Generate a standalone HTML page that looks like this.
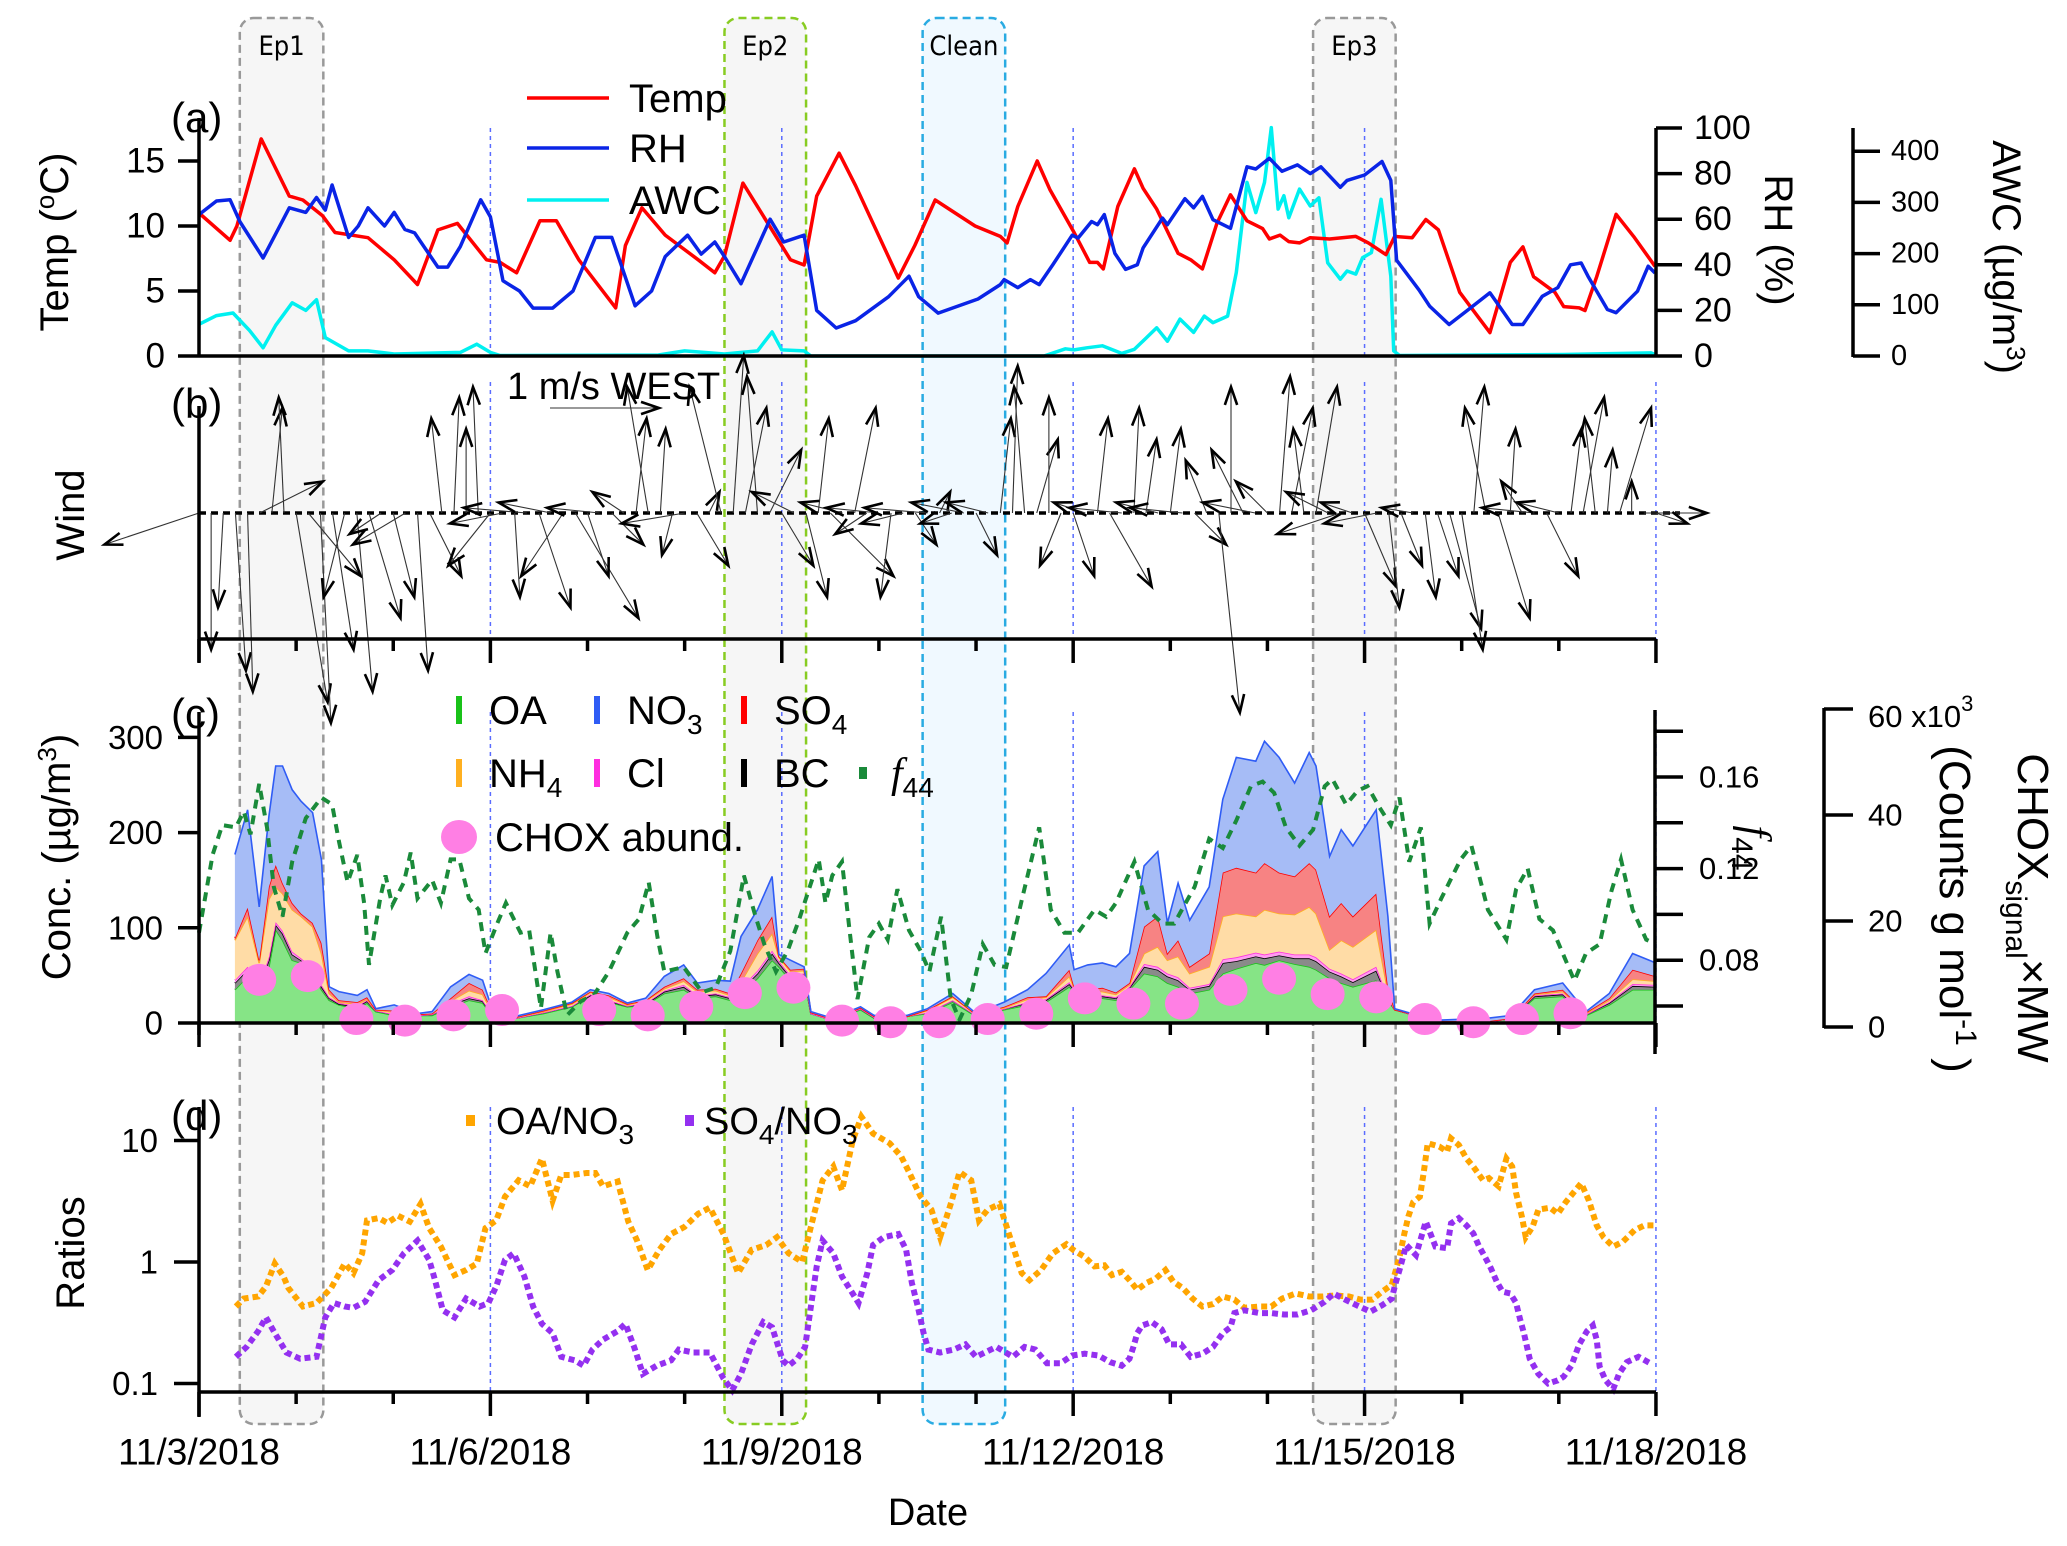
<!DOCTYPE html>
<html><head><meta charset="utf-8">
<style>
html,body{margin:0;padding:0;background:#fff;}
svg{display:block;font-family:"Liberation Sans",Arial,sans-serif;}
</style></head>
<body>
<svg id="chart" xmlns="http://www.w3.org/2000/svg" width="2067" height="1546" viewBox="0 0 2067 1546">
<g id="boxes"></g>
<g id="grid"></g>
<g id="pa"></g>
<g id="pb"></g>
<g id="pc"></g>
<g id="pd"></g>
<g id="axes"></g>
<g id="texts" font-size="42" fill="#000">
  <text x="171" y="132">(a)</text>
  <text x="171" y="418">(b)</text>
  <text x="171" y="728">(c)</text>
  <text x="171" y="1130">(d)</text>
  <text transform="translate(68,242) rotate(-90)" text-anchor="middle" font-size="40">Temp (<tspan dy="-14" font-size="26">o</tspan><tspan dy="14">C)</tspan></text>
  <text transform="translate(1765,240) rotate(90)" text-anchor="middle" font-size="40">RH (%)</text>
  <text transform="translate(1993,257) rotate(90)" text-anchor="middle" font-size="40">AWC (µg/m<tspan dy="-14" font-size="26">3</tspan><tspan dy="14">)</tspan></text>
  <text transform="translate(84,515) rotate(-90)" text-anchor="middle" font-size="40">Wind</text>
  <text transform="translate(70,857) rotate(-90)" text-anchor="middle" font-size="40">Conc. (µg/m<tspan dy="-14" font-size="26">3</tspan><tspan dy="14">)</tspan></text>
  <text transform="translate(1742,848) rotate(90)" text-anchor="middle" font-size="42"><tspan font-style="italic" font-family="Liberation Serif">f</tspan><tspan dy="10" font-size="30">44</tspan></text>
  <text transform="translate(2018,908) rotate(90)" text-anchor="middle" font-size="44">CHOX<tspan dy="12" font-size="30">signal</tspan><tspan dy="-12">×MW</tspan></text>
  <text transform="translate(1940,909) rotate(90)" text-anchor="middle" font-size="44">(Counts g mol<tspan dy="-16" font-size="30">-1</tspan><tspan dy="16"> )</tspan></text>
  <text x="1868" y="727" font-size="31">60 x10<tspan dy="-16" font-size="22">3</tspan></text>
  <text transform="translate(84,1253) rotate(-90)" text-anchor="middle" font-size="40">Ratios</text>
  <text x="928" y="1525" text-anchor="middle" font-size="38">Date</text>
  <text x="507" y="399" font-size="38">1 m/s WEST</text>
</g>
<g id="legend"></g>
</svg>
<script>
// ---------------- data ----------------
const tTemp=[0,0.32,0.39,0.64,0.93,1.07,1.27,1.40,1.74,2.01,2.25,2.46,2.66,2.96,3.10,3.27,3.51,3.68,3.91,4.29,4.39,4.56,4.80,5.14,5.31,5.41,5.60,6.09,6.23,6.36,6.59,6.76,7.20,7.37,7.58,7.99,8.25,8.32,8.43,8.63,8.76,9.01,9.17,9.25,9.31,9.46,9.63,9.72,9.86,10.08,10.21,10.33,10.48,10.62,10.79,10.95,11.02,11.13,11.22,11.33,11.44,11.64,11.91,12.04,12.22,12.31,12.49,12.63,12.76,12.98,13.16,13.29,13.5,13.63,13.74,13.96,14.05,14.21,14.27,14.39,14.59,14.77,14.99];
const temp=[11.0,8.9,10,16.7,12.3,12,10.8,9.5,9.1,7.4,5.5,9.7,10.2,7.4,7.2,6.4,10.4,10.4,7.4,3.7,8.5,11.4,9.3,7.4,6.4,7.7,13.3,7.4,7.0,12.3,15.6,13.1,6.0,8.5,12,10,9.2,8.7,11.5,15.0,12.8,9.5,7.2,7.2,6.7,11.5,14.4,12.9,11.3,7.9,7.4,6.7,10.2,12.4,10.4,9.8,9.0,9.3,8.8,8.7,9.1,9.0,9.2,8.7,7.8,9.2,9.1,10.5,9.7,4.9,3.1,1.8,7.2,8.4,6.1,4.9,3.8,3.7,3.5,6.1,10.9,9.2,6.9];
const tRH=[0,0.18,0.32,0.42,0.66,0.93,1.10,1.21,1.30,1.37,1.54,1.64,1.74,1.91,2.01,2.12,2.22,2.46,2.56,2.69,2.90,3.0,3.13,3.30,3.44,3.64,3.85,4.08,4.25,4.49,4.66,4.80,5.03,5.17,5.31,5.41,5.58,5.88,6.02,6.23,6.36,6.56,6.76,7.10,7.31,7.41,7.61,8.02,8.25,8.29,8.43,8.56,8.65,8.79,8.99,9.05,9.19,9.25,9.32,9.43,9.54,9.66,9.72,9.92,9.97,10.15,10.24,10.33,10.44,10.62,10.79,10.88,11.02,11.15,11.31,11.44,11.55,11.75,11.82,12.0,12.18,12.27,12.33,12.56,12.67,12.87,13.07,13.29,13.52,13.63,13.83,13.99,14.12,14.23,14.30,14.5,14.59,14.81,14.92,14.99];
const rh=[62,68,68.5,59,43,65,63,69.5,64,75,52,57,65,57,63,55.5,54,39,39,48,68.5,61,33,28.5,21,21,28.5,52,52,22,28.5,43.6,53,44.7,50,43.6,31.7,60,50,53,20,12.3,15.5,26,35,26,18.8,25,31.3,33.5,30,33.5,31.3,40,53,51.7,59,57.6,62,45,38,40,47.4,60.5,57.6,69,65,70,59.8,56,83,82,86.7,81,83.8,80,83,74,77,79.4,85.3,77,42,29,21.9,13.8,20.4,27.7,13.8,13.8,26.2,30,40,40.8,35,20.4,19,28.4,39.4,36.4];
const tAWC=[0,0.18,0.35,0.52,0.66,0.79,0.96,1.10,1.21,1.30,1.54,1.74,2.01,2.69,2.86,3.0,3.10,4.73,5.0,5.41,5.75,5.90,6.0,6.23,6.30,8.70,8.92,9.01,9.14,9.30,9.50,9.63,9.86,9.97,10.10,10.24,10.35,10.44,10.59,10.68,10.79,10.88,10.97,11.04,11.11,11.17,11.22,11.33,11.44,11.53,11.62,11.75,11.82,11.91,11.98,12.07,12.17,12.27,12.30,12.36,14.05,14.95,15];
const awc=[62,79,84,50,16,60,104,89,110,36,10,10,4,7,23,7,1,2,10,4,10,47,12,10,0,0,14,12,16,20,5,13,55,29,72,46,78,65,78,163,339,280,339,446,287,313,270,326,293,309,182,150,166,160,192,202,306,156,10,1,3,6,2];

const tWind=Array.from({length:121},(_, i)=>i/8); // 3-hourly sample times (days)
const windU=[-0.9,0.0,-0.05,0.1,0.05,0.6,0.1,-0.05, 0.3,0.5,0.1,0.2,-0.2,0.15,0.3,-0.3, 0.2,-0.5,0.1,0.3,-0.1,0.05,0.0,-0.05, -0.4,-0.5,0.05,-0.6,0.3,-0.5,-0.4,0.6, 0.2,-0.5,0.3,-0.3,0.1,-0.2,0.05,-0.1, -0.6,0.3,0.1,-0.3,0.1,0.2,-0.1,0.3, 0.3,-0.4,0.2,0.1,0.6,-0.4,0.2,-0.3, -0.5,-0.1,-0.4,0.2,-0.6,0.1,-0.3,-0.5, 0.2,-0.4,0.1,0.05,-0.1,0.2,0.0,-0.2, 0.2,-0.3,0.1,0.4,-0.5,0.05,0.1,-0.4, 0.1,-0.5,0.3,-0.2,0.2,0.0,-0.3,-0.5, -0.3,0.1,0.2,-0.1,0.2,-0.4,-0.6,-0.3, 0.3,-0.5,0.1,0.2,-0.3,0.1,0.2,0.3, 0.2,0.1,-0.2,0.3,0.05,-0.2,-0.5,0.3, -0.4,0.1,0.2,-0.1,0.05,0.3,0.0,0.6, 0.3];
const windV=[-0.3,-1.3,-0.9,-1.5,-1.7,0.3,1.0,1.1, -1.8,-0.6,-2.0,-1.3,-0.8,-1.7,-1.0,-0.2, -0.8,-0.3,-1.5,-0.6,0.9,1.1,0.8,1.2, -0.5,-0.1,-0.8,0.05,-0.9,0.1,-0.6,-1.0, -0.6,0.05,-0.3,0.2,0.9,1.2,0.8,-0.4, -0.1,-0.5,0.2,1.2,1.5,1.0,1.3,0.6, -0.5,0.2,-0.8,0.9,-0.6,0.1,1.0,-0.2, 0.05,-0.8,-0.1,-0.3,0.05,0.2,-0.1,0.1, -0.4,0.1,0.9,1.4,1.2,0.7,1.1,-0.5, -0.6,0.1,0.9,-0.7,0.05,1.0,0.7,0.1, 0.8,0.05,-0.3,0.5,-1.9,1.2,0.6,0.1, 0.3,1.3,1.0,0.8,1.2,0.2,-0.2,0.1, -0.7,-0.1,-0.9,-0.5,0.05,-0.8,-0.6,-1.1, -1.3,1.2,1.0,-1.0,0.8,0.3,0.05,-0.6, 0.1,0.8,1.1,0.9,0.6,1.0,0.3,0.0, -0.1];

const tStack=[0.37,0.5,0.62,0.72,0.79,0.86,0.96,1.05,1.17,1.26,1.34,1.44,1.63,1.73,1.82,2.01,2.25,2.4,2.59,2.78,2.92,3.02,3.26,3.55,3.84,4.03,4.22,4.41,4.6,4.79,4.99,5.13,5.32,5.47,5.58,5.75,5.9,5.97,6.09,6.23,6.3,6.52,6.81,6.95,7.29,7.5,7.76,8.0,8.29,8.53,8.72,8.96,9.01,9.15,9.3,9.44,9.58,9.73,9.87,9.97,10.08,10.2,10.4,10.54,10.68,10.88,10.97,11.12,11.28,11.43,11.5,11.64,11.76,11.88,12.12,12.24,12.31,12.55,12.79,13.27,13.51,13.75,14.04,14.28,14.52,14.76,15.0];
const OA =[35,49,35,59,98,87,66,63,52,35,24,19,15,21,12,8,8,8,17,24,21,8,5,10,17,28,22,17,19,31,35,26,28,24,31,47,66,59,45,49,10,3,14,5,7,10,22,7,14,19,22,38,33,28,26,24,35,52,49,42,38,31,35,52,57,63,61,66,62,59,56,47,42,38,45,24,14,7,1,1,5,26,28,8,19,35,35];
const BC =[7,7,3,7,5,7,6,3,4,3,2,1,2,2,1,1,0,1,2,2,2,1,0,1,1,1,1,1,1,2,3,2,2,2,4,5,7,4,3,2,0,0,1,1,0,1,2,1,1,2,2,3,2,2,2,2,2,7,7,7,7,4,4,11,8,7,7,5,6,9,9,7,7,5,10,2,0,0,0,0,0,2,2,1,2,4,3];
const Cl =[3,3,2,3,3,3,3,2,2,2,1,1,1,1,0,0,0,0,1,2,1,0,0,0,0,1,1,0,1,1,2,1,1,1,2,3,3,2,2,1,0,0,0,0,0,0,0,0,0,1,1,2,1,1,1,1,1,3,3,3,3,2,2,4,4,4,4,4,4,4,4,3,3,3,4,1,0,0,0,0,0,1,1,0,1,2,2];
const NH4=[42,53,23,61,37,39,44,44,43,33,4,1,2,1,1,2,1,1,3,6,6,2,1,1,2,2,3,1,2,2,4,4,3,2,6,18,18,4,4,3,1,1,1,1,0,2,3,1,1,3,2,6,1,2,4,3,2,11,21,14,22,15,18,45,46,38,47,40,42,50,46,20,35,34,39,6,0,1,1,1,0,1,2,1,2,5,4];
const SO4=[2,9,3,13,23,11,7,3,4,11,4,2,2,2,0,2,0,0,3,8,5,1,0,1,1,1,2,1,1,2,3,2,2,2,9,14,18,1,2,2,0,0,0,0,0,1,1,0,1,2,1,7,1,2,4,2,2,28,32,7,17,7,14,46,48,46,49,43,40,46,46,35,39,32,38,5,0,0,0,0,0,1,2,1,2,10,5];
const NO3=[88,103,56,74,104,123,119,118,116,88,3,9,7,8,1,6,1,2,12,9,10,2,1,1,1,2,2,1,2,11,14,7,9,13,39,32,42,2,10,2,1,1,1,1,1,1,3,1,5,8,24,26,18,26,26,27,31,64,68,32,60,49,70,77,116,117,128,121,98,116,109,63,77,74,88,74,1,0,1,3,3,4,7,1,5,17,14];

const tF44=[0,0.14,0.24,0.38,0.46,0.53,0.62,0.7,0.77,0.86,0.96,1.1,1.26,1.37,1.44,1.53,1.63,1.7,1.75,1.87,1.92,1.99,2.11,2.18,2.25,2.4,2.49,2.59,2.68,2.78,2.88,2.95,3.07,3.16,3.31,3.4,3.52,3.62,3.69,3.79,3.93,4.07,4.22,4.41,4.53,4.63,4.72,4.79,4.99,5.18,5.32,5.47,5.61,5.73,5.82,5.94,6.06,6.18,6.28,6.38,6.45,6.52,6.62,6.69,6.78,6.9,7.0,7.09,7.19,7.31,7.43,7.52,7.64,7.74,7.83,7.95,8.07,8.19,8.31,8.48,8.65,8.77,8.91,9.05,9.22,9.34,9.44,9.63,9.77,9.92,10.04,10.25,10.4,10.54,10.68,10.83,10.95,11.07,11.19,11.33,11.47,11.59,11.67,11.81,11.93,12.03,12.15,12.27,12.36,12.46,12.58,12.67,12.79,12.99,13.1,13.27,13.46,13.56,13.68,13.8,13.94,14.16,14.28,14.42,14.54,14.64,14.76,14.9,15.0];
const f44=[0.092,0.126,0.139,0.138,0.145,0.135,0.157,0.138,0.112,0.099,0.123,0.142,0.151,0.148,0.132,0.114,0.126,0.105,0.078,0.108,0.117,0.104,0.114,0.127,0.107,0.115,0.105,0.124,0.124,0.107,0.102,0.083,0.096,0.105,0.092,0.093,0.059,0.092,0.075,0.056,0.062,0.065,0.075,0.092,0.098,0.114,0.09,0.075,0.077,0.066,0.068,0.084,0.117,0.099,0.087,0.075,0.084,0.098,0.111,0.124,0.105,0.117,0.123,0.096,0.063,0.09,0.096,0.089,0.111,0.093,0.084,0.075,0.099,0.063,0.054,0.065,0.087,0.078,0.077,0.108,0.138,0.102,0.092,0.092,0.102,0.099,0.105,0.123,0.102,0.096,0.096,0.112,0.133,0.129,0.141,0.156,0.158,0.153,0.138,0.13,0.137,0.156,0.159,0.148,0.154,0.156,0.147,0.139,0.151,0.123,0.138,0.096,0.107,0.124,0.13,0.102,0.089,0.111,0.12,0.098,0.093,0.071,0.083,0.087,0.11,0.124,0.102,0.089,0.087];

const tChox=[0.62,1.12,1.62,2.12,2.62,3.12,4.12,4.62,5.12,5.62,6.12,6.62,7.12,7.62,8.12,8.62,9.12,9.62,10.12,10.62,11.12,11.62,12.12,12.62,13.12,13.62,14.12];
const chox=[8.9,9.6,1.5,1.2,2.2,3.2,3.2,2.2,3.8,6.4,7.4,1.2,0.9,0.9,1.5,2.5,5.4,4.4,4.4,7.0,9.1,6.2,5.6,1.5,0.9,1.5,2.6];

const tOAr=[0.38,0.46,0.61,0.69,0.78,0.87,0.92,1.07,1.21,1.36,1.5,1.59,1.68,1.73,1.85,1.94,2.05,2.17,2.28,2.37,2.49,2.63,2.75,2.86,2.95,3.06,3.15,3.29,3.41,3.53,3.64,3.73,3.84,3.99,4.08,4.16,4.31,4.42,4.51,4.62,4.74,4.86,5.0,5.14,5.26,5.4,5.55,5.69,5.84,5.95,6.07,6.21,6.3,6.42,6.53,6.62,6.73,6.82,6.94,7.11,7.23,7.31,7.43,7.54,7.63,7.75,7.83,7.95,8.03,8.12,8.24,8.35,8.47,8.55,8.67,8.79,8.93,9.0,9.12,9.22,9.32,9.4,9.5,9.58,9.66,9.75,9.85,9.95,10.03,10.13,10.23,10.33,10.44,10.54,10.66,10.76,10.92,11.04,11.15,11.29,11.43,11.57,11.7,11.84,11.96,12.08,12.18,12.28,12.36,12.41,12.45,12.5,12.57,12.61,12.65,12.77,12.85,12.89,12.97,13.05,13.12,13.22,13.28,13.38,13.46,13.52,13.56,13.62,13.66,13.73,13.79,13.91,13.99,14.07,14.23,14.31,14.39,14.46,14.56,14.66,14.78,14.88,15.0];
const oaNo3=[0.43,0.5,0.52,0.63,0.97,0.76,0.61,0.43,0.46,0.61,0.97,0.81,1.18,2.2,2.3,2.1,2.4,2.15,3.0,1.9,1.34,0.78,0.86,0.97,1.9,2.2,3.45,4.7,4.2,7.1,3.2,5.2,5.2,5.4,5.4,4.2,4.6,2.15,1.5,0.86,1.26,1.7,1.95,2.5,2.8,1.7,0.81,1.26,1.38,1.6,1.18,1.0,1.95,4.7,6.1,3.9,10,15.7,11.4,9.5,7.4,5.5,3.45,2.7,1.6,3.2,5.5,4.7,2.2,2.7,3.0,1.6,0.81,0.71,0.86,1.18,1.4,1.26,1.1,0.92,0.94,0.78,0.83,0.71,0.59,0.67,0.73,0.86,0.69,0.61,0.5,0.43,0.45,0.52,0.49,0.42,0.43,0.43,0.5,0.55,0.52,0.52,0.53,0.52,0.49,0.49,0.57,0.65,1.1,1.72,2.36,3.1,3.45,5.5,9.5,8.9,8.1,10.4,9.2,7.1,6.1,4.7,4.9,4.2,7.1,6.1,3.7,2.36,1.6,1.95,2.7,2.8,2.5,3.1,4.45,3.2,2.0,1.6,1.34,1.47,1.83,2.0,2.0];
const tSOr=[0.38,0.49,0.61,0.69,0.78,0.9,1.04,1.21,1.3,1.39,1.5,1.59,1.71,1.85,1.99,2.11,2.25,2.37,2.43,2.51,2.63,2.75,2.89,2.98,3.06,3.15,3.24,3.35,3.44,3.53,3.64,3.73,3.87,3.96,4.05,4.16,4.31,4.39,4.48,4.57,4.71,4.86,4.94,5.09,5.26,5.4,5.49,5.58,5.69,5.81,5.9,6.01,6.07,6.16,6.24,6.3,6.36,6.42,6.53,6.62,6.73,6.79,6.88,6.94,7.05,7.2,7.28,7.34,7.4,7.46,7.51,7.63,7.77,7.89,8.0,8.21,8.38,8.5,8.61,8.73,8.87,8.99,9.12,9.26,9.38,9.5,9.58,9.62,9.66,9.71,9.81,9.91,9.99,10.11,10.21,10.33,10.44,10.54,10.62,10.66,10.76,10.92,11.04,11.17,11.31,11.45,11.59,11.68,11.8,11.92,12.06,12.18,12.28,12.32,12.36,12.43,12.53,12.63,12.73,12.85,12.89,12.97,13.05,13.12,13.18,13.24,13.3,13.36,13.42,13.5,13.56,13.6,13.64,13.7,13.79,13.89,13.99,14.05,14.13,14.21,14.29,14.35,14.39,14.42,14.48,14.56,14.62,14.7,14.82,14.94];
const so4No3=[0.166,0.2,0.27,0.35,0.26,0.18,0.16,0.166,0.35,0.46,0.43,0.42,0.47,0.71,0.86,1.18,1.5,1.04,0.71,0.4,0.35,0.5,0.43,0.46,0.63,1.04,1.18,0.76,0.43,0.31,0.26,0.166,0.155,0.14,0.19,0.23,0.27,0.31,0.2,0.12,0.14,0.155,0.19,0.18,0.18,0.11,0.088,0.12,0.21,0.32,0.29,0.155,0.14,0.16,0.2,0.43,0.92,1.5,1.18,0.76,0.55,0.46,0.81,1.38,1.6,1.7,1.26,0.67,0.43,0.26,0.19,0.18,0.19,0.21,0.166,0.2,0.166,0.2,0.19,0.147,0.147,0.17,0.176,0.17,0.15,0.14,0.16,0.2,0.26,0.3,0.32,0.28,0.21,0.21,0.166,0.176,0.2,0.26,0.29,0.38,0.4,0.38,0.38,0.37,0.37,0.4,0.47,0.55,0.49,0.44,0.39,0.44,0.5,0.67,0.86,1.38,1.14,2.15,1.34,1.3,2.08,2.3,2.0,1.72,1.34,1.1,0.89,0.69,0.57,0.55,0.46,0.34,0.26,0.16,0.12,0.1,0.106,0.114,0.14,0.21,0.27,0.3,0.23,0.138,0.107,0.09,0.12,0.15,0.166,0.147,0.166];

const xLabels=["11/3/2018","11/6/2018","11/9/2018","11/12/2018","11/15/2018","11/18/2018"];
const tempTicks=[0,5,10,15], rhTicks=[0,20,40,60,80,100], awcTicks=[0,100,200,300,400];
const concTicks=[0,100,200,300], f44Ticks=[0.06,0.08,0.10,0.12,0.14,0.16,0.18], f44Labeled=[0.08,0.12,0.16];
const choxTicks=[0,20,40,60], ratioTicks=[0.1,1,10];
const episodes=[["Ep1",0.42,1.28,"#999999","#f6f6f6"],["Ep2",5.41,6.25,"#88cc22","#f6f6f6"],["Clean",7.45,8.3,"#29abe2","#f0f9ff"],["Ep3",11.47,12.32,"#999999","#f6f6f6"]];

// ---------------- scales ----------------
const X=t=>199+t*97.13;
const yT=v=>356-v*13.0, yRH=v=>356-v*2.28, yAWC=v=>356-v*0.512;
const yC=v=>1023-v*0.952, yF=v=>777+(0.16-v)*2290, yCH=v=>1027-v*5.3;
const yR=v=>1262-Math.log10(v)*121.5;
const NS="http://www.w3.org/2000/svg";
function el(tag,attrs,parent){const e=document.createElementNS(NS,tag);for(const k in attrs)e.setAttribute(k,attrs[k]);parent.appendChild(e);return e;}
function pts(ts,vs,fy){return ts.map((t,i)=>X(t).toFixed(1)+","+fy(vs[i]).toFixed(1)).join(" ");}
const G=id=>document.getElementById(id);

episodes.forEach(e=>{
  const r=el("rect",{x:X(e[1]),y:18,width:X(e[2])-X(e[1]),height:1406,rx:14,fill:e[4],stroke:e[3],"stroke-width":2.5,"stroke-dasharray":"8 5"},G("boxes"));
  
  
  const tx=el("text",{x:(X(e[1])+X(e[2]))/2,y:55,"text-anchor":"middle","font-size":27,"font-family":"DejaVu Sans Condensed, DejaVu Sans, sans-serif"},G("boxes"));
  tx.textContent=e[0];
  
  
});
[[128,356],[382,639],[712,1023],[1107,1391]].forEach(r=>{[3,6,9,12,15].forEach(d=>{
  const l=el("line",{x1:X(d),x2:X(d),y1:r[0],y2:r[1],stroke:"#5a6cff","stroke-width":1.5,"stroke-dasharray":"4 4"},G("grid"));
  
  
});});

[[tAWC,awc,yAWC,"#00f0f0","awc-line"],[tTemp,temp,yT,"#ff0000","temp-line"],[tRH,rh,yRH,"#0a24e6","rh-line"]].forEach(s=>{
  const p=el("polyline",{points:pts(s[0],s[1],s[2]),fill:"none",stroke:s[3],"stroke-width":3.5,"stroke-linejoin":"round"},G("pa"));
  
  
});

const bl=el("line",{x1:199,x2:1680,y1:513,y2:513,stroke:"#000","stroke-width":3.5,"stroke-dasharray":"7 5"},G("pb"));


function arrow(x0,y0,x1,y1,parent,name){
  const g=el("g",{stroke:"#000",fill:"none"},parent);
  
  
  el("line",{x1:x0,y1:y0,x2:x1,y2:y1,"stroke-width":1.1,stroke:"#333"},g);
  const a=Math.atan2(y1-y0,x1-x0),L=19;
  const p1=[x1-L*Math.cos(a-0.33),y1-L*Math.sin(a-0.33)],p2=[x1-L*Math.cos(a+0.33),y1-L*Math.sin(a+0.33)];
  el("polyline",{points:p1.join(",")+" "+x1+","+y1+" "+p2.join(","),"stroke-width":2.6},g);
}
tWind.forEach((t,i)=>{arrow(X(t),513,X(t)+windU[i]*105,513-windV[i]*105,G("pb"),'wind-vector');});
arrow(550,408,659,408,G("pb"),'wind-scale-arrow');

const layers=[[OA,"#86e486","#19c219","oa"],[BC,"#8a8a8a","#000000","bc"],[Cl,"#ff9cf0","#ff2ee0","cl"],[NH4,"#ffdca6","#ffb020","nh4"],[SO4,"#f78383","#ff0000","so4"],[NO3,"#a6bcf6","#2f5cf5","no3"]];
let base=tStack.map(()=>0);
layers.forEach(L=>{
  const top=base.map((b,i)=>b+L[0][i]);
  const up=tStack.map((t,i)=>X(t).toFixed(1)+","+yC(top[i]).toFixed(1));
  const dn=tStack.map((t,i)=>X(t).toFixed(1)+","+yC(base[i]).toFixed(1)).reverse();
  const poly=el("polygon",{points:up.concat(dn).join(" "),fill:L[1],stroke:"none"},G("pc"));
  
  
  const ln=el("polyline",{points:up.join(" "),fill:"none",stroke:L[2],"stroke-width":1.6},G("pc"));
  
  
  base=top;
});
const fl=el("polyline",{points:pts(tF44,f44,yF),fill:"none",stroke:"#1a8a3a","stroke-width":4,"stroke-dasharray":"9 7"},G("pc"));


tChox.forEach((t,i)=>{
  const c=el("ellipse",{cx:X(t),cy:yCH(chox[i]),rx:17,ry:16,fill:"#ff7fe4"},G("pc"));
  
  
});

[[tOAr,oaNo3,"#ffa500","oa-no3-line"],[tSOr,so4No3,"#9430f0","so4-no3-line"]].forEach(s=>{
  const p=el("polyline",{points:pts(s[0],s[1],yR),fill:"none",stroke:s[2],"stroke-width":6,"stroke-dasharray":"6 4"},G("pd"));
  
  
});

const AX=G("axes");
function line(x1,y1,x2,y2,w,name){const l=el("line",{x1,y1,x2,y2,stroke:"#000","stroke-width":w||3.5},AX);return l;}
function txt(x,y,s,anchor,size,name){const t=el("text",{x,y,"text-anchor":anchor,"font-size":size,"dominant-baseline":"central"},AX);t.textContent=s;return t;}
line(199,118,199,356,3.5,'temp-axis'); line(199,356,1656,356,3.5,'panel-a-x-axis');
tempTicks.forEach(v=>{line(178,yT(v),199,yT(v),3.5,'temp-tick');txt(165,yT(v),String(v),"end",35,'temp-tick-label');});
line(1656,128,1656,356,3.5,'rh-axis');
rhTicks.forEach(v=>{line(1656,yRH(v),1682,yRH(v),3.5,'rh-tick');txt(1694,yRH(v),String(v),"start",34,'rh-tick-label');});
line(1853,128,1853,357,3.5,'awc-axis');
awcTicks.forEach(v=>{line(1853,yAWC(v),1880,yAWC(v),3.5,'awc-tick');txt(1891,yAWC(v),String(v),"start",29,'awc-tick-label');});
line(199,406,199,662,3.5,'wind-axis');
[639,1023,1392].forEach((y,k)=>{
  line(199,y,1656,y,3.5,'x-axis');
  for(let d=0;d<=15;d++){const big=d%3===0;line(X(d),y,X(d),y+(big?24:12),3.5,'x-tick');}
});
line(199,712,199,1035,3.5,'conc-axis');
concTicks.forEach(v=>{line(178,yC(v),199,yC(v),3.5,'conc-tick');txt(163,yC(v),String(v),"end",33,'conc-tick-label');});
line(1655,710,1655,1054,3.5,'f44-axis');
f44Ticks.forEach(v=>{line(1655,yF(v),1683,yF(v),3.5,'f44-tick');});
f44Labeled.forEach(v=>{txt(1699,yF(v),v.toFixed(2),"start",31,'f44-tick-label');});
line(1824,708,1824,1028,3.5,'chox-axis');
choxTicks.forEach(v=>{line(1824,yCH(v),1853,yCH(v),3.5,'chox-tick');if(v!==60)txt(1868,yCH(v),String(v),"start",31,'chox-tick-label');});
line(199,1107,199,1417,3.5,'ratio-axis');
ratioTicks.forEach(v=>{line(174,yR(v),199,yR(v),3.5,'ratio-tick');txt(158,yR(v),String(v),"end",33,'ratio-tick-label');});
xLabels.forEach((s,i)=>{txt(X(i*3),1452,s,"middle",37,'x-tick-label');});

const LG=G("legend");
function ltxt(x,y,html,size,name){const t=el("text",{x,y,"font-size":size},LG);t.innerHTML=html;}
[["Temp","#ff0000",98],["RH","#0a24e6",148],["AWC","#00f0f0",200]].forEach(e=>{
  const l=el("line",{x1:527,x2:609,y1:e[2],y2:e[2],stroke:e[1],"stroke-width":3.5},LG);
  
  
  ltxt(629,e[2]+14,e[0],40,'legend-entry-'+e[0].toLowerCase());
});
const sub=s=>'<tspan dy="10" font-size="28">'+s+'</tspan>';
[[459,710,"#19c219","OA"],[597,710,"#2f5cf5","NO"+sub("3")],[744,710,"#ff0000","SO"+sub("4")],[459,773,"#ffb020","NH"+sub("4")],[597,773,"#ff2ee0","Cl"],[744,773,"#000000","BC"]].forEach((e,i)=>{
  const r=el("rect",{x:e[0]-3,y:e[1]-14,width:6,height:28,fill:e[2]},LG);
  
  
  ltxt(e[0]+30,e[1]+14,e[3],40,'legend-entry');
});
const fd=el("rect",{x:859,y:767,width:8,height:12,fill:"#1a8a3a"},LG);


ltxt(891,787,'<tspan font-style="italic" font-family="Liberation Serif">f</tspan>'+sub("44"),42,'legend-entry-f44');
const lc=el("ellipse",{cx:459,cy:837,rx:18,ry:17,fill:"#ff7fe4"},LG);


ltxt(495,851,"CHOX abund.",40,'legend-entry-chox');
const o1=el("rect",{x:466,y:1115,width:9,height:11,fill:"#ffa500"},LG);


ltxt(496,1134,"OA/NO"+sub("3"),38,'legend-entry-oa-no3');
const o2=el("rect",{x:685,y:1115,width:9,height:11,fill:"#9430f0"},LG);


ltxt(704,1134,"SO"+sub("4")+'<tspan dy="-10">/NO</tspan>'+sub("3"),38,'legend-entry-so4-no3');
</script>
</body></html>
